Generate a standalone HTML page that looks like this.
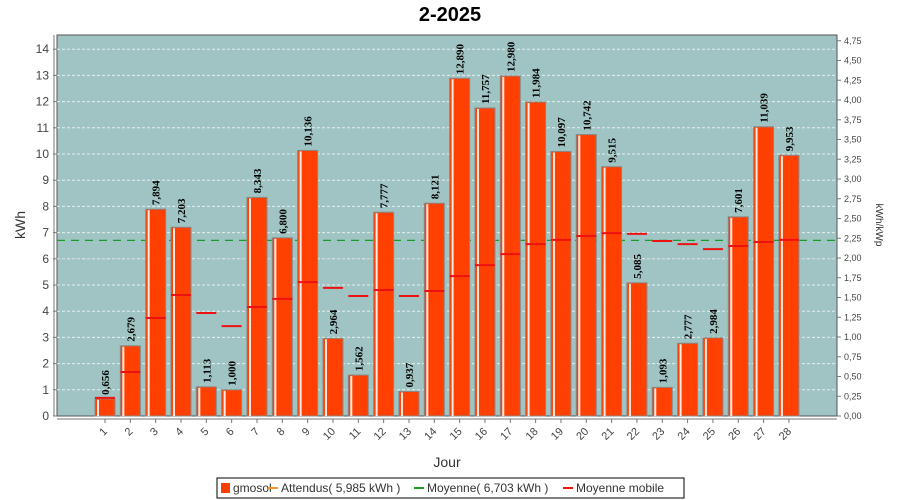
<!DOCTYPE html>
<html><head><meta charset="utf-8"><style>
body{margin:0;background:#fff;}
svg{display:block;font-family:"Liberation Sans",sans-serif;}
</style></head><body>
<svg id="c" width="900" height="500"></svg>
<script>
const days=["1","2","3","4","5","6","7","8","9","10","11","12","13","14","15","16","17","18","19","20","21","22","23","24","25","26","27","28"];
const prod=[0.656,2.679,7.894,7.203,1.113,1.000,8.343,6.800,10.136,2.964,1.562,7.777,0.937,8.121,12.890,11.757,12.980,11.984,10.097,10.742,9.515,5.085,1.093,2.777,2.984,7.601,11.039,9.953];
const mobile=[0.69,1.68,3.74,4.62,3.93,3.43,4.16,4.47,5.11,4.89,4.58,4.81,4.58,4.77,5.34,5.76,6.18,6.56,6.72,6.87,6.98,6.95,6.68,6.56,6.37,6.49,6.64,6.72];
const expected=5.985, average=6.703;
const leftTicks=[0,1,2,3,4,5,6,7,8,9,10,11,12,13,14];
const rightTicks=[0,0.25,0.5,0.75,1,1.25,1.5,1.75,2,2.25,2.5,2.75,3,3.25,3.5,3.75,4,4.25,4.5,4.75];
const NS="http://www.w3.org/2000/svg", svg=document.getElementById('c');
const L=57,R=837,T=35,B=416;
const y=v=>B-v*26.2, yr=v=>B-v*79;
const x=i=>105+i*25.33;
function mk(t,a,p){const e=document.createElementNS(NS,t);for(const k in a)e.setAttribute(k,a[k]);(p||svg).appendChild(e);return e;}
let e;
e=mk('text',{x:450,y:21,'text-anchor':'middle','font-size':20,'font-weight':'bold',fill:'#000'});e.textContent='2-2025';


e=mk('rect',{x:L,y:T,width:R-L,height:B-T,fill:'#9fc4c3',stroke:'#555'});


leftTicks.forEach(t=>{
 if(t>0)mk('line',{x1:L,x2:R,y1:y(t),y2:y(t),stroke:'#e6efef','stroke-dasharray':'3,2','stroke-width':1});
 mk('line',{x1:L-4,x2:L,y1:y(t),y2:y(t),stroke:'#777'});
 e=mk('text',{x:L-8,y:y(t)+4,'text-anchor':'end','font-size':12,fill:'#444'});e.textContent=t;
 
 
});
rightTicks.forEach(t=>{
 mk('line',{x1:R,x2:R+4,y1:yr(t),y2:yr(t),stroke:'#777'});
 e=mk('text',{x:R+7,y:yr(t)+3,'font-size':9,fill:'#444'});e.textContent=t.toFixed(2).replace('.',',');
 
 
});
mk('line',{x1:L-3,x2:L-3,y1:T,y2:B,stroke:'#777'});
mk('line',{x1:L,x2:R,y1:B+3,y2:B+3,stroke:'#777'});
e=mk('text',{x:25,y:225,'text-anchor':'middle','font-size':14,fill:'#333',transform:'rotate(-90 25 225)'});e.textContent='kWh';


e=mk('text',{x:876,y:225,'text-anchor':'middle','font-size':10,fill:'#333',transform:'rotate(90 876 225)'});e.textContent='kWh/kWp';


e=mk('text',{x:447,y:467,'text-anchor':'middle','font-size':14,fill:'#333'});e.textContent='Jour';


mk('line',{x1:L,x2:R,y1:y(expected),y2:y(expected),stroke:'#b9c9c3','stroke-dasharray':'8,6'});
e=mk('line',{x1:L,x2:R,y1:y(average),y2:y(average),stroke:'#1a9a2a','stroke-dasharray':'8,6','stroke-width':1.3});


days.forEach((d,i)=>{
 const cx=x(i),v=prod[i];
 e=mk('rect',{x:cx-10,y:y(v),width:20,height:B-y(v),fill:'#ff4000',stroke:'#888','stroke-width':1});
 
 
 mk('rect',{x:cx-8,y:y(v)+1,width:2,height:B-y(v)-1,fill:'#fff','fill-opacity':0.9});
 e=mk('text',{x:cx+4,y:y(v)-4,'font-size':11,'font-weight':'bold','font-family':'Liberation Serif,serif',fill:'#000',transform:`rotate(-90 ${cx+4} ${y(v)-4})`});
 e.textContent=v.toFixed(3).replace('.',',');
 
 
 mk('line',{x1:cx,x2:cx,y1:B+3,y2:B+7,stroke:'#777'});
 e=mk('text',{x:cx+3,y:432,'text-anchor':'end','font-size':11,fill:'#444',transform:`rotate(-45 ${cx+3} 432)`});e.textContent=d;
 
 
 e=mk('line',{x1:cx-10,x2:cx+10,y1:y(mobile[i]),y2:y(mobile[i]),stroke:'#ee1111','stroke-width':2});
 
 
});
const lg=mk('g',{});


mk('rect',{x:217,y:478,width:467,height:20,fill:'#fff',stroke:'#000'},lg);
mk('rect',{x:221,y:483,width:9,height:10,fill:'#ff4000'},lg);
const items=[[233,'gmosol',null],[281,'Attendus( 5,985 kWh )','#f7931e'],[427,'Moyenne( 6,703 kWh )','#1a9a2a'],[576,'Moyenne mobile','#ee1111']];
items.forEach(([lx,t,c])=>{
 if(c)mk('line',{x1:lx-13,x2:lx-3,y1:488,y2:488,stroke:c,'stroke-width':2},lg);
 e=mk('text',{x:lx,y:492,'font-size':12,fill:'#333'},lg);e.textContent=t;
 
 
});
</script>
</body></html>
